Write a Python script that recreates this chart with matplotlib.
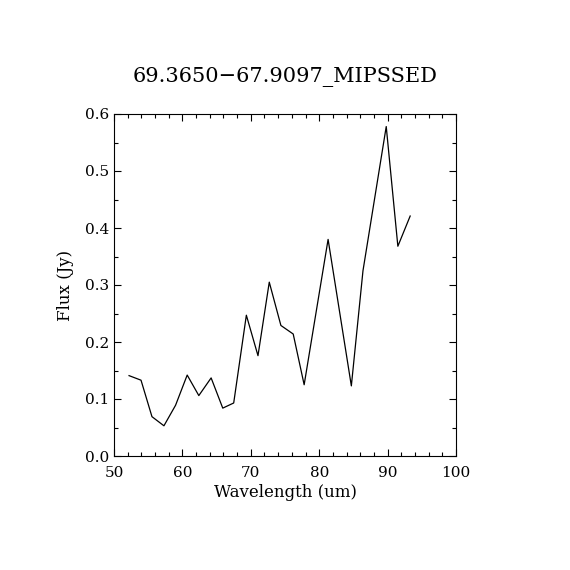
import matplotlib
matplotlib.use("Agg")
import matplotlib.pyplot as plt
from matplotlib.ticker import MultipleLocator

# spectrum
wavelength = [52.2, 53.95, 55.55, 57.3, 59.0, 60.7, 62.4, 64.2, 65.9, 67.5,
              69.35, 71.05, 72.7, 74.4, 76.2, 77.8, 81.3, 84.7, 86.4, 89.8,
              91.5, 93.3]
flux = [0.141, 0.133, 0.069, 0.053, 0.089, 0.142, 0.106, 0.137, 0.084, 0.093,
        0.247, 0.176, 0.305, 0.229, 0.214, 0.125, 0.380, 0.123, 0.325, 0.578,
        0.368, 0.421]

title = "69.3650\u221267.9097_MIPSSED"
x_label = "Wavelength (um)"
y_label = "Flux (Jy)"

plt.rcParams["font.family"] = ["DejaVu Serif"]

fig = plt.figure(figsize=(5.7, 5.7), dpi=100)
ax = fig.add_axes([0.2, 0.2, 0.6, 0.6])

ax.plot(wavelength, flux, color="black", linewidth=0.9)

ax.set_xlim(50, 100)
ax.set_ylim(0.0, 0.6)
ax.xaxis.set_major_locator(MultipleLocator(10))
ax.xaxis.set_minor_locator(MultipleLocator(2))
ax.yaxis.set_major_locator(MultipleLocator(0.1))
ax.yaxis.set_minor_locator(MultipleLocator(0.05))
ax.yaxis.set_major_formatter(plt.FormatStrFormatter("%.1f"))

ax.tick_params(which="both", direction="in", top=True, right=True,
               labelsize=11, width=0.8)
ax.tick_params(which="major", length=5)
ax.tick_params(which="minor", length=2.6)
ax.tick_params(axis="x", pad=7)
for s in ax.spines.values():
    s.set_linewidth(0.8)

ax.set_xlabel(x_label, fontsize=12, labelpad=3)
ax.set_ylabel(y_label, fontsize=12, labelpad=8)
ax.set_title(title, fontsize=15, pad=23)

fig.savefig("out.png", dpi=100, facecolor="white")
